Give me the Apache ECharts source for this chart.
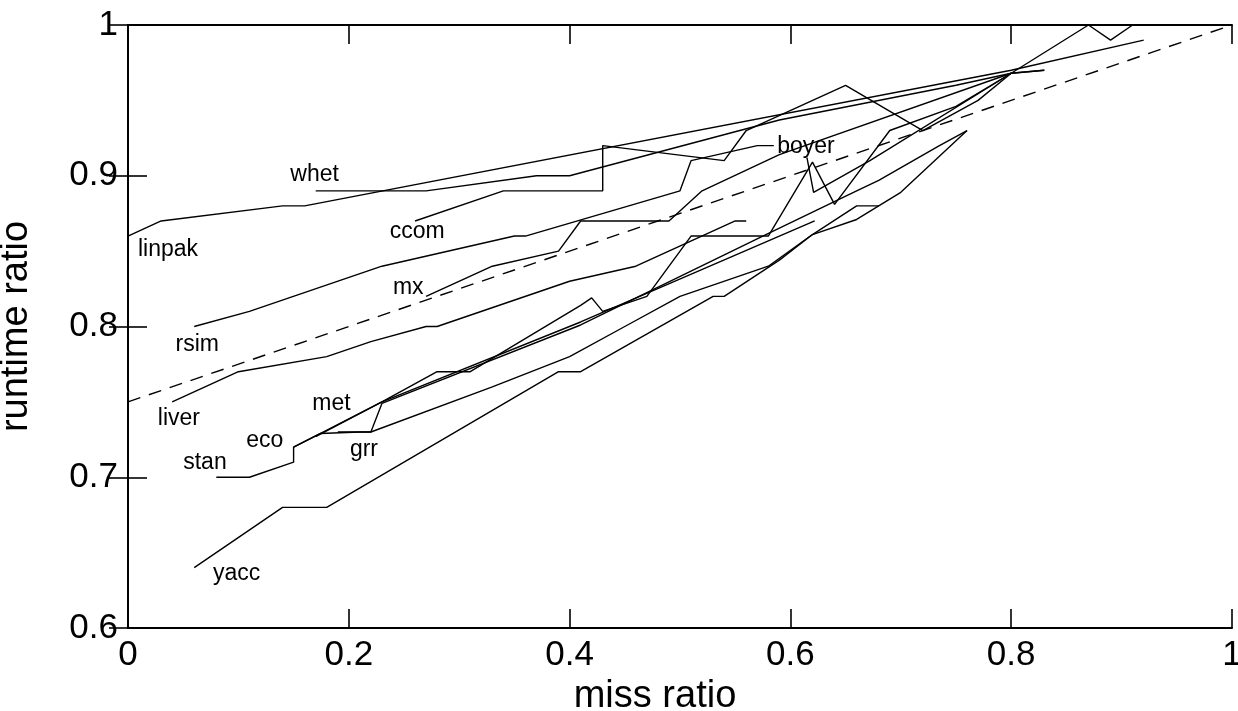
<!DOCTYPE html>
<html><head><meta charset="utf-8">
<script src="https://cdn.jsdelivr.net/npm/echarts@6/dist/echarts.min.js"></script>
<style>html,body{margin:0;padding:0;background:#fff}#c{width:1238px;height:711px}</style>
</head><body><div id="c"></div>
<script>
// ---- data (miss ratio, runtime ratio) ----
const linpak = [[0,0.86],[0.03,0.87],[0.14,0.88],[0.16,0.88],[0.80,0.97],[0.92,0.99]];
const whet   = [[0.17,0.89],[0.27,0.89],[0.37,0.90],[0.40,0.90],[0.59,0.937],[0.75,0.96],[0.80,0.968],[0.83,0.97]];
const ccom   = [[0.26,0.87],[0.34,0.89],[0.43,0.89],[0.43,0.92],[0.54,0.91],[0.56,0.93],[0.65,0.96],[0.72,0.93],[0.77,0.95],[0.80,0.968],[0.87,1.0],[0.89,0.99],[0.91,1.0],[0.93,1.0]];
const rsim   = [[0.06,0.80],[0.11,0.81],[0.23,0.84],[0.35,0.86],[0.36,0.86],[0.50,0.89],[0.51,0.91],[0.57,0.92],[0.585,0.92]];
const mx     = [[0.27,0.82],[0.33,0.84],[0.39,0.85],[0.41,0.87],[0.49,0.87],[0.52,0.89],[0.59,0.914],[0.80,0.968]];
const liver  = [[0.04,0.75],[0.10,0.77],[0.18,0.78],[0.22,0.79],[0.27,0.80],[0.28,0.80],[0.40,0.83],[0.46,0.84],[0.55,0.87],[0.56,0.87]];
const met    = [[0.17,0.727],[0.23,0.75],[0.28,0.77],[0.31,0.77],[0.41,0.814],[0.42,0.819],[0.43,0.81],[0.47,0.82],[0.51,0.86],[0.58,0.86],[0.62,0.909],[0.64,0.881],[0.69,0.93],[0.75,0.946],[0.80,0.968],[0.83,0.97]];
const eco    = [[0.15,0.72],[0.174,0.729],[0.21,0.73],[0.22,0.73],[0.23,0.749],[0.41,0.801],[0.575,0.86],[0.66,0.89],[0.68,0.897],[0.735,0.92],[0.76,0.93]];
const stan   = [[0.08,0.70],[0.11,0.70],[0.15,0.71],[0.15,0.72],[0.174,0.729],[0.23,0.75],[0.41,0.803],[0.622,0.87]];
const grr    = [[0.19,0.73],[0.22,0.73],[0.33,0.76],[0.40,0.78],[0.45,0.80],[0.50,0.82],[0.58,0.84],[0.62,0.861],[0.66,0.871],[0.70,0.889],[0.76,0.93]];
const yacc   = [[0.06,0.64],[0.14,0.68],[0.18,0.68],[0.39,0.77],[0.41,0.77],[0.53,0.82],[0.54,0.82],[0.59,0.844],[0.62,0.861],[0.66,0.88],[0.68,0.88]];
const boyer  = [[0.615,0.912],[0.621,0.889],[0.672,0.91],[0.80,0.968]];
const reference = [[0,0.75],[1,1.0]];
// label anchors (miss ratio, runtime ratio, name)
const labels = [[0.147,0.901,'whet'],[0.009,0.851,'linpak'],[0.237,0.863,'ccom'],[0.588,0.919,'boyer'],
  [0.24,0.826,'mx'],[0.043,0.788,'rsim'],[0.027,0.739,'liver'],[0.167,0.749,'met'],[0.107,0.724,'eco'],
  [0.05,0.71,'stan'],[0.201,0.718,'grr'],[0.077,0.636,'yacc']];
const xTicks = [0,0.2,0.4,0.6,0.8,1];
const yTicks = [0.6,0.7,0.8,0.9,1];

const FONT = 'Liberation Sans';
const curves = {linpak, whet, ccom, rsim, mx, liver, met, eco, stan, grr, yacc, boyer};
const series = Object.keys(curves).map(k => ({
  name: k, type: 'line', data: curves[k], symbol: 'none', silent: true,
  lineStyle: {color: '#000', width: 1.4}, animation: false
}));
series.push({name: 'ref', type: 'line', data: reference, symbol: 'none', silent: true, animation: false,
  lineStyle: {color: '#000', width: 1.4, type: [13, 9]}});
series.push({name: 'labels', type: 'custom', coordinateSystem: 'cartesian2d', silent: true, animation: false,
  data: labels.map(l => [l[0], l[1]]), encode: {x: 0, y: 1},
  renderItem: (params, api) => {
    const p = api.coord([api.value(0), api.value(1)]);
    return {type: 'text', x: p[0], y: p[1],
      style: {text: labels[params.dataIndex][2], fill: '#000', fontSize: 23, fontFamily: FONT,
        align: 'left', verticalAlign: 'middle'}};
  }});

const axisCommon = {
  axisLine: {show: true, lineStyle: {color: '#000', width: 2}},
  axisTick: {show: true, inside: true, length: 19, lineStyle: {color: '#000', width: 1.6}},
  splitLine: {show: false}
};
const option = {
  backgroundColor: '#fff',
  animation: false,
  grid: {left: 128, right: 6, top: 25, bottom: 83, containLabel: false, outerBoundsMode: 'none'},
  xAxis: [
    Object.assign({type: 'value', min: 0, max: 1, interval: 0.2, position: 'bottom',
      name: 'miss ratio', nameLocation: 'middle', nameGap: 36,
      nameTextStyle: {fontSize: 38, fontFamily: FONT, color: '#000', padding: [0, 50, 0, 0]},
      axisLabel: {fontSize: 35, fontFamily: FONT, color: '#000', margin: 10,
        formatter: v => xTicks.includes(+v.toFixed(2)) ? String(+v.toFixed(2)) : ''}}, axisCommon),
    Object.assign({type: 'value', min: 0, max: 1, interval: 0.2, position: 'top',
      axisLabel: {show: false}}, axisCommon)
  ],
  yAxis: [
    Object.assign({type: 'value', min: 0.6, max: 1, interval: 0.1, position: 'left',
      name: 'runtime ratio', nameLocation: 'middle', nameGap: 92, nameRotate: 90,
      nameTextStyle: {fontSize: 38, fontFamily: FONT, color: '#000'},
      axisLabel: {fontSize: 35, fontFamily: FONT, color: '#000', margin: 10,
        formatter: v => yTicks.includes(+v.toFixed(2)) ? String(+v.toFixed(2)) : ''}}, axisCommon),
    Object.assign({type: 'value', min: 0.6, max: 1, interval: 0.1, position: 'right',
      axisLabel: {show: false}}, axisCommon)
  ],
  series
};
const chart = echarts.init(document.getElementById('c'), null, {renderer: 'canvas'});
chart.setOption(option);
</script></body></html>
